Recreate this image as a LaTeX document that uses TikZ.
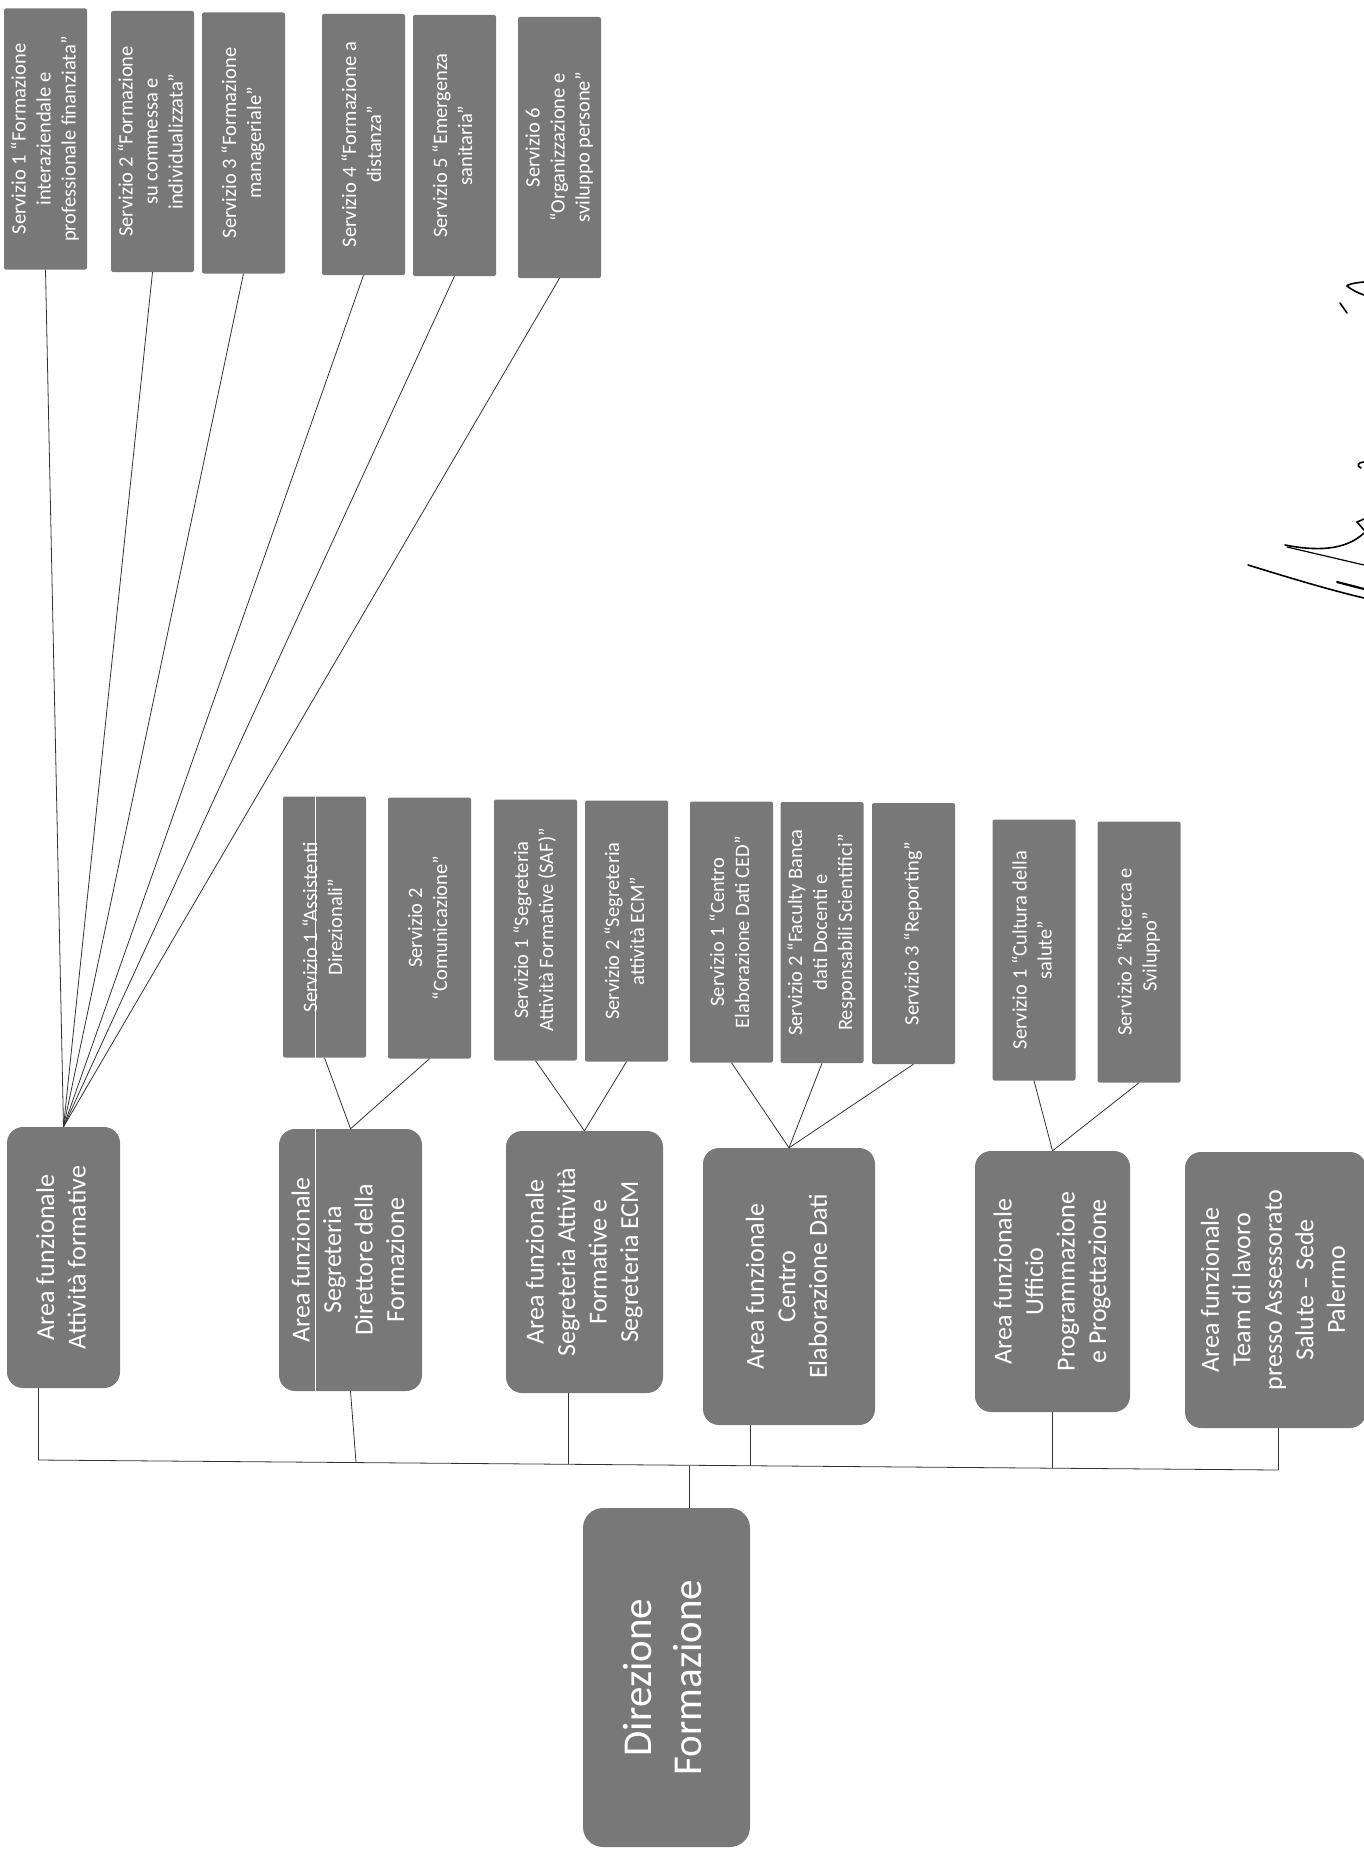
\documentclass[tikz,border=0pt]{standalone}
\usepackage{fontspec}
\setmainfont{Carlito}
\usepackage{graphicx}
\definecolor{boxgray}{gray}{0.47}
\newcommand{\vt}[1]{\rotatebox{90}{\begin{tabular}{@{}c@{}}#1\end{tabular}}}
\tikzset{servbox/.style={fill=boxgray, text=white, rounded corners=2pt, inner sep=0pt, minimum width=83pt, minimum height=261pt, font=\fontsize{20.5}{25}\selectfont},
 areabox/.style={fill=boxgray, text=white, rounded corners=16pt, inner sep=0pt, font=\fontsize{26}{31.5}\selectfont},
 link/.style={black!80, line width=0.8pt},
 sign/.style={black, line width=1.6pt, line cap=round}}

\begin{document}
\begin{tikzpicture}[x=1pt, y=-1pt]
   \useasboundingbox (0,0) rectangle (1364,1854);
   % direzione e aree funzionali
   \node[areabox, rounded corners=20pt, minimum width=167pt, minimum height=339pt, font=\fontsize{41}{50}\selectfont] (dir) at (666.5,1677.5) {\vt{Direzione\\Formazione}};
   \node[areabox, minimum width=113pt, minimum height=261pt] (a1) at ( 63.5,1257.5) {\vt{Area funzionale\\Attività formative}};
   \node[areabox, minimum width=143pt, minimum height=262pt] (a2) at (350.5,1260.0) {\vt{Area funzionale\\Segreteria\\Direttore della\\Formazione}};
   \node[areabox, minimum width=157pt, minimum height=262pt] (a3) at (584.5,1262.0) {\vt{Area funzionale\\Segreteria Attività\\Formative e\\Segreteria ECM}};
   \node[areabox, minimum width=172pt, minimum height=277pt] (a4) at (789.0,1286.5) {\vt{Area funzionale\\Centro\\Elaborazione Dati}};
   \node[areabox, minimum width=155pt, minimum height=261pt] (a5) at (1052.5,1281.5) {\vt{Area funzionale\\Ufficio\\Programmazione\\e Progettazione}};
   \node[areabox, minimum width=181pt, minimum height=276pt] (a6) at (1275.5,1290.0) {\vt{Area funzionale\\Team di lavoro\\presso Assessorato\\Salute – Sede\\Palermo}};
   % servizi area 1
   \node[servbox] (s11) at ( 45.5,139.0) {\vt{Servizio 1 “Formazione\\interaziendale e\\professionale finanziata”}};
   \node[servbox] (s12) at (152.5,141.5) {\vt{Servizio 2 “Formazione\\su commessa e\\individualizzata”}};
   \node[servbox] (s13) at (243.5,143.0) {\vt{Servizio 3 “Formazione\\manageriale”}};
   \node[servbox] (s14) at (363.5,144.5) {\vt{Servizio 4 “Formazione a\\distanza”}};
   \node[servbox] (s15) at (454.5,145.5) {\vt{Servizio 5 “Emergenza\\sanitaria”}};
   \node[servbox] (s16) at (559.5,147.5) {\vt{Servizio 6\\“Organizzazione e\\sviluppo persone”}};
   % servizi aree 2-5
   \node[servbox] (s21) at ( 324.5,927.0) {\vt{Servizio 1 “Assistenti\\Direzionali”}};
   \node[servbox] (s22) at ( 429.5,928.0) {\vt{Servizio 2\\“Comunicazione”}};
   \node[servbox] (s31) at ( 535.5,930.0) {\vt{Servizio 1 “Segreteria\\Attività Formative (SAF)”}};
   \node[servbox] (s32) at ( 626.5,931.0) {\vt{Servizio 2 “Segreteria\\attività ECM”}};
   \node[servbox] (s41) at ( 731.5,932.0) {\vt{Servizio 1 “Centro\\Elaborazione Dati CED”}};
   \node[servbox] (s42) at ( 822.0,932.5) {\vt{Servizio 2 “Faculty Banca\\dati Docenti e\\Responsabili Scientifici”}};
   \node[servbox] (s43) at ( 913.5,933.5) {\vt{Servizio 3 “Reporting”}};
   \node[servbox] (s51) at (1034.0,950.0) {\vt{Servizio 1 “Cultura della\\salute”}};
   \node[servbox] (s52) at (1139.0,952.0) {\vt{Servizio 2 “Ricerca e\\Sviluppo”}};
   % riga bianca della scansione
   \draw[white, line width=1pt] ([xshift=-35.5pt]a2.north) -- ([xshift=-35.5pt]a2.south);
   \draw[white, line width=1pt] ([xshift=-9.5pt]s21.north) -- ([xshift=-9.5pt]s21.south);
   % linee verso i servizi
   \draw[link] (s11.south) -- (a1.north);
   \draw[link] (s12.south) -- (a1.north);
   \draw[link] (s13.south) -- (a1.north);
   \draw[link] (s14.south) -- (a1.north);
   \draw[link] (s15.south) -- (a1.north);
   \draw[link] (s16.south) -- (a1.north);
   \draw[link] (s21.south) -- (a2.north);
   \draw[link] (s22.south) -- (a2.north);
   \draw[link] (s31.south) -- (a3.north);
   \draw[link] (s32.south) -- (a3.north);
   \draw[link] (s41.south) -- (a4.north);
   \draw[link] (s42.south) -- (a4.north);
   \draw[link] (s43.south) -- (a4.north);
   \draw[link] (s51.south) -- (a5.north);
   \draw[link] (s52.south) -- (a5.north);
   % barra orizzontale
   \coordinate (b1) at (  38,1460);
   \coordinate (b2) at ( 356,1462);
   \coordinate (b3) at ( 568,1464);
   \coordinate (bd) at ( 689,1466);
   \coordinate (b4) at ( 750,1466);
   \coordinate (b5) at (1052,1468);
   \coordinate (b6) at (1278,1470);
   \draw[link] (b1) -- (b6);
   \draw[link] (b1 |- a1.south) -- (b1);
   \draw[link] (a2.south) -- (b2);
   \draw[link] (b3 |- a3.south) -- (b3);
   \draw[link] (b4 |- a4.south) -- (b4);
   \draw[link] (b5 |- a5.south) -- (b5);
   \draw[link] (b6 |- a6.south) -- (b6);
   \draw[link] (bd) -- (bd |- dir.north);
   % firma
   \draw[sign] (1364,282) .. controls (1352,283) and (1347,285) .. (1347,286) .. controls (1352,290) and (1358,293) .. (1364,295);
   \draw[sign] (1340,303) -- (1347,313);
   \draw[sign] (1364,462) .. controls (1358,462) and (1356,466) .. (1361,468);
   \draw[sign] (1364,519) -- (1357,522) -- (1364,530);
   \draw[sign] (1285,545) .. controls (1315,551) and (1345,551) .. (1364,533);
   \draw[sign, line width=1.2pt] (1287,547) -- (1364,565);
   \draw[sign] (1248,565) .. controls (1290,578) and (1330,590) .. (1364,598);
   \draw[sign, line width=2.2pt] (1337,582) -- (1364,589);
\end{tikzpicture}
\end{document}
